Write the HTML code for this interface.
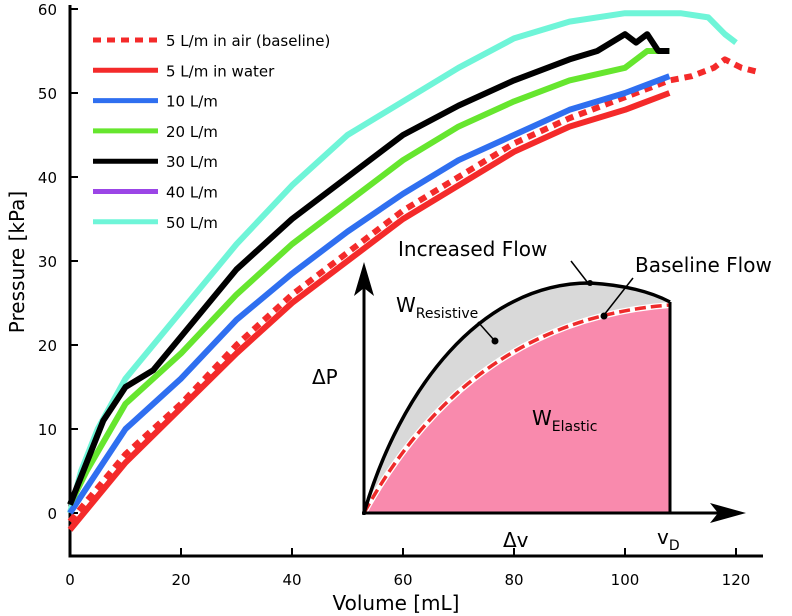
<!DOCTYPE html>
<html><head><meta charset="utf-8"><style>
body{margin:0;background:#fff}
svg{display:block;font-family:"DejaVu Sans","Liberation Sans",sans-serif}
</style></head><body>
<svg id="c" width="792" height="616" viewBox="0 0 792 616">
<g id="axes"></g>
<g id="series"></g>
<g id="legend"></g>
<g id="inset">
  <path d="M364,513 C400,390 480,283 590,283 Q640,286 670,302 L670,513 Z" fill="#d9d9d9"/>
  <path d="M364,513 Q470,320 670,305 L670,513 Z" fill="#f98aad"/>
  <path d="M364,513 Q470,320 670,305" fill="none" stroke="#fff" stroke-width="6"/>
  <path d="M364,513 Q470,320 670,305" fill="none" stroke="#ee2a2a" stroke-width="3.5" stroke-dasharray="11,5"/>
  <path d="M364,513 C400,390 480,283 590,283 Q640,286 670,302" fill="none" stroke="#000" stroke-width="3.5"/>
  <line x1="670" y1="302" x2="670" y2="514" stroke="#000" stroke-width="3"/>
  <line x1="364" y1="515" x2="364" y2="280" stroke="#000" stroke-width="3"/>
  <polygon points="364,262 354,296 364,288 374,296" fill="#000"/>
  <line x1="362" y1="513" x2="730" y2="513" stroke="#000" stroke-width="3"/>
  <polygon points="746,513 710,503 718,513 710,523" fill="#000"/>
  <line x1="571" y1="261" x2="588" y2="283" stroke="#000" stroke-width="1.5"/>
  <circle cx="590" cy="283" r="3" fill="#000"/>
  <line x1="633" y1="278" x2="604" y2="315" stroke="#000" stroke-width="1.5"/>
  <circle cx="604" cy="316" r="3.5" fill="#000"/>
  <line x1="478" y1="322" x2="494" y2="340" stroke="#000" stroke-width="1.5"/>
  <circle cx="495" cy="341" r="3.5" fill="#000"/>
  <text x="398" y="256" font-size="20">Increased Flow</text>
  <text x="635" y="272" font-size="20">Baseline Flow</text>
  <text x="396" y="312" font-size="20">W<tspan font-size="14" dy="6">Resistive</tspan></text>
  <text x="532" y="425" font-size="20">W<tspan font-size="14" dy="6">Elastic</tspan></text>
  <text x="312" y="384" font-size="20">ΔP</text>
  <text x="503" y="547" font-size="20">Δv</text>
  <text x="657" y="544" font-size="20">v<tspan font-size="14" dy="6">D</tspan></text>
</g>
</svg>
<script>
const NS='http://www.w3.org/2000/svg';
const xTicks=[0,20,40,60,80,100,120];
const yTicks=[0,10,20,30,40,50,60];
const airVol=[0,5,10,20,30,40,50,60,70,80,90,100,108,112,116,118,121,124];
const airP=[-1,3,7,13,20,26,31,36,40,44,47,49.5,51.5,52,53,54,53,52.5];
const waterVol=[0,5,10,20,30,40,50,60,70,80,90,100,108];
const waterP=[-2,2,6,12.5,19,25,30,35,39,43,46,48,50];
const f10Vol=[0,5,10,20,30,40,50,60,70,80,90,100,108];
const f10P=[0,5,10,16,23,28.5,33.5,38,42,45,48,50,52];
const f20Vol=[0,3,10,20,30,40,50,60,70,80,90,100,104,108];
const f20P=[1,5,13,19,26,32,37,42,46,49,51.5,53,55,55];
const f30Vol=[0,3,6,10,15,20,30,40,50,60,70,80,90,95,100,102,104,106,108];
const f30P=[1,6,11,15,17,21,29,35,40,45,48.5,51.5,54,55,57,56,57,55,55];
const f50Vol=[0,2,5,10,20,30,40,50,60,70,80,90,100,110,115,118,120];
const f50P=[0,5,10,16,24,32,39,45,49,53,56.5,58.5,59.5,59.5,59,57,56];
const x=v=>70+5.55*v, y=p=>513-8.4*p;
function mk(tag,attrs,parent){const e=document.createElementNS(NS,tag);for(const k in attrs)e.setAttribute(k,attrs[k]);parent.appendChild(e);return e;}
const ax=document.getElementById('axes');
let a=mk('path',{d:'M70,5 V556 H763',fill:'none',stroke:'#000','stroke-width':3},ax);


xTicks.forEach(t=>{
  mk('line',{x1:x(t),x2:x(t),y1:556,y2:548,stroke:'#000','stroke-width':2},ax);
  const l=mk('text',{x:x(t),y:585,'font-size':15,'text-anchor':'middle'},ax);l.textContent=t;
  
  
});
yTicks.forEach(t=>{
  mk('line',{x1:70,x2:78,y1:y(t),y2:y(t),stroke:'#000','stroke-width':2},ax);
  const l=mk('text',{x:57,y:y(t)+6,'font-size':15,'text-anchor':'end'},ax);l.textContent=t;
  
  
});
let xt=mk('text',{x:396,y:610,'font-size':20,'text-anchor':'middle'},ax);xt.textContent='Volume [mL]';


let yt=mk('text',{x:0,y:0,'font-size':20,'text-anchor':'middle',transform:'translate(24,262) rotate(-90)'},ax);yt.textContent='Pressure [kPa]';


const S=document.getElementById('series');
function line(vs,ps,col,name,dash){
  const e=mk('polyline',{points:vs.map((v,i)=>x(v)+','+y(ps[i])).join(' '),fill:'none',stroke:col,'stroke-width':6,'stroke-linejoin':'round'},S);
  if(dash)e.setAttribute('stroke-dasharray','8,6');
  
  
}
line(f50Vol,f50P,'#6ff5d8','series-50-lpm');
line(airVol,airP,'#f42a2a','series-5-lpm-air',true);
line(waterVol,waterP,'#f42a2a','series-5-lpm-water');
line(f10Vol,f10P,'#2f6ff0','series-10-lpm');
line(f20Vol,f20P,'#66e62e','series-20-lpm');
line(f30Vol,f30P,'#000','series-30-lpm');
const L=document.getElementById('legend');
const leg=[['5 L/m in air (baseline)','#f42a2a',1],['5 L/m in water','#f42a2a',0],['10 L/m','#2f6ff0',0],['20 L/m','#66e62e',0],['30 L/m','#000',0],['40 L/m','#9b45e6',0],['50 L/m','#6ff5d8',0]];
leg.forEach((d,i)=>{
  const yy=40+i*30.3;
  const ln=mk('line',{x1:93,x2:158,y1:yy,y2:yy,stroke:d[1],'stroke-width':5},L);
  if(d[2])ln.setAttribute('stroke-dasharray','8,6');
  
  
  const t=mk('text',{x:166,y:yy+6,'font-size':15},L);t.textContent=d[0];
  
  
});
</script>
</body></html>
